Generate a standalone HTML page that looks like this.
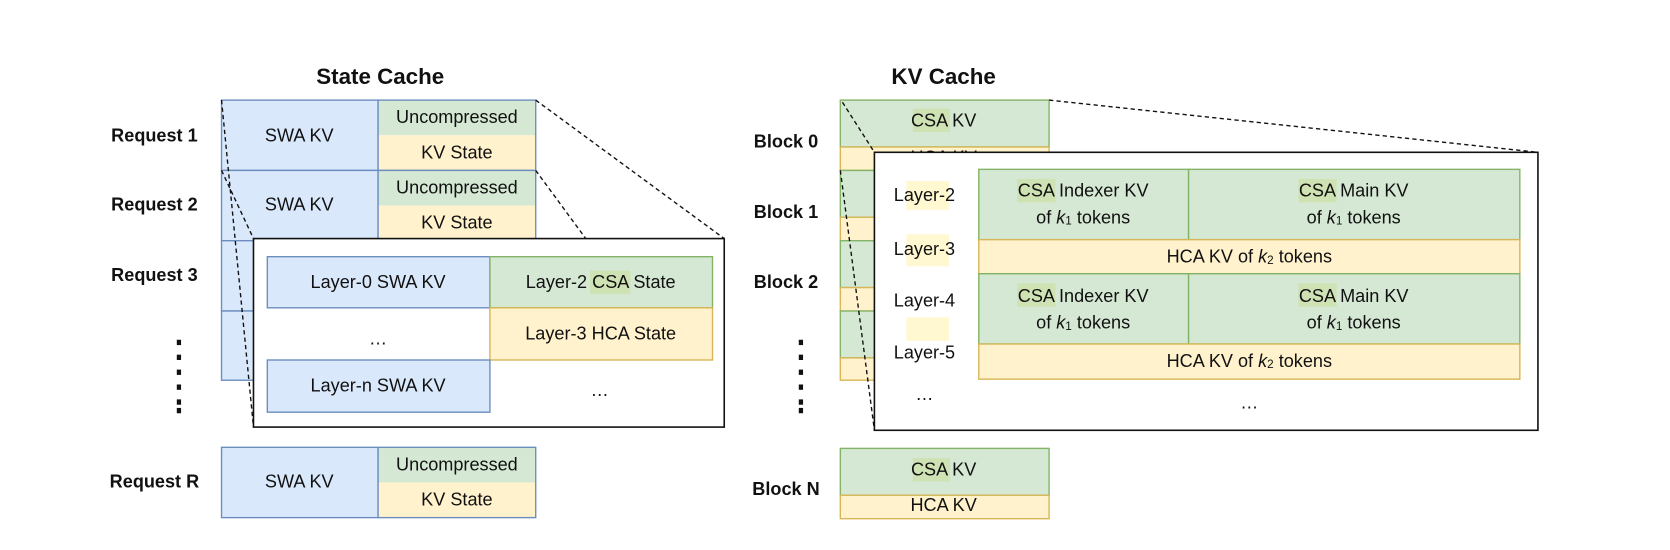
<!DOCTYPE html>
<html><head><meta charset="utf-8"><style>html,body{margin:0;padding:0;background:#fff}svg{display:block}text{font-family:"Liberation Sans",sans-serif;fill:#111}</style></head>
<body>
<svg width="1670" height="550" viewBox="0 0 1568 516.4" preserveAspectRatio="none" xmlns="http://www.w3.org/2000/svg">
<g font-size="17" text-anchor="middle" dominant-baseline="central">
<text x="357" y="72" font-size="21" font-weight="bold">State Cache</text>
<text x="886" y="72" font-size="21" font-weight="bold">KV Cache</text>
<g stroke-width="1.3">
<rect x="208" y="94" width="147" height="66" fill="#dae8fc" stroke="#6c8ebf"/>
<rect x="355" y="94" width="148" height="33" fill="#d5e8d4"/><rect x="355" y="127" width="148" height="33" fill="#fff2cc"/>
<rect x="355" y="94" width="148" height="66" fill="none" stroke="#6c8ebf"/>
<rect x="208" y="160" width="147" height="66" fill="#dae8fc" stroke="#6c8ebf"/>
<rect x="355" y="160" width="148" height="33" fill="#d5e8d4"/><rect x="355" y="193" width="148" height="33" fill="#fff2cc"/>
<rect x="355" y="160" width="148" height="66" fill="none" stroke="#6c8ebf"/>
<rect x="208" y="226" width="147" height="66" fill="#dae8fc" stroke="#6c8ebf"/>
<rect x="208" y="292" width="147" height="65" fill="#dae8fc" stroke="#6c8ebf"/>
<rect x="208" y="420" width="147" height="66" fill="#dae8fc" stroke="#6c8ebf"/>
<rect x="355" y="420" width="148" height="33" fill="#d5e8d4"/><rect x="355" y="453" width="148" height="33" fill="#fff2cc"/>
<rect x="355" y="420" width="148" height="66" fill="none" stroke="#6c8ebf"/>
</g>
<text x="281" y="127">SWA KV</text><text x="429" y="110">Uncompressed</text><text x="429" y="143">KV State</text>
<text x="281" y="192">SWA KV</text><text x="429" y="176">Uncompressed</text><text x="429" y="209">KV State</text>
<text x="281" y="452">SWA KV</text><text x="429" y="436">Uncompressed</text><text x="429" y="469">KV State</text>
<g font-weight="bold"><text x="145" y="127">Request 1</text><text x="145" y="192">Request 2</text><text x="145" y="258">Request 3</text><text x="145" y="452">Request R</text>
<text x="738" y="133">Block 0</text><text x="738" y="199">Block 1</text><text x="738" y="265">Block 2</text><text x="738" y="459">Block N</text></g>
<g fill="#111"><rect x="166" y="319" width="4" height="5"/><rect x="166" y="333" width="4" height="5"/><rect x="166" y="347" width="4" height="5"/><rect x="166" y="361" width="4" height="5"/><rect x="166" y="375" width="4" height="5"/><rect x="166" y="383" width="4" height="5"/>
<rect x="750" y="319" width="4" height="5"/><rect x="750" y="333" width="4" height="5"/><rect x="750" y="347" width="4" height="5"/><rect x="750" y="361" width="4" height="5"/><rect x="750" y="375" width="4" height="5"/><rect x="750" y="383" width="4" height="5"/></g>
<rect x="238" y="224" width="442" height="177" fill="#fff" stroke="#111" stroke-width="1.5"/>
<rect x="251" y="241" width="209" height="48" fill="#dae8fc" stroke="#6c8ebf" stroke-width="1.3"/>
<rect x="460" y="241" width="209" height="48" fill="#d5e8d4" stroke="#82b366" stroke-width="1.3"/>
<rect x="460" y="289" width="209" height="49" fill="#fff2cc" stroke="#d6b656" stroke-width="1.3"/>
<rect x="251" y="338" width="209" height="49" fill="#dae8fc" stroke="#6c8ebf" stroke-width="1.3"/>
<rect x="554" y="254" width="38" height="22" fill="#cfe2b4"/>
<text x="355" y="265">Layer-0 SWA KV</text><text x="564" y="265">Layer-2 CSA State</text>
<text x="564" y="313">Layer-3 HCA State</text><text x="355" y="362">Layer-n SWA KV</text>
<text x="355" y="318">…</text><text x="563" y="366">…</text>
<g stroke="#111" stroke-width="1.3" stroke-dasharray="4,3" fill="none">
<line x1="208" y1="94" x2="238" y2="401"/><line x1="208" y1="160" x2="238" y2="224"/>
<line x1="503" y1="94" x2="680" y2="224"/><line x1="503" y1="160" x2="550" y2="224"/>
</g>
<g stroke-width="1.3">
<rect x="789" y="94" width="196" height="44" fill="#d5e8d4" stroke="#82b366"/><rect x="789" y="138" width="196" height="22" fill="#fff2cc" stroke="#d6b656"/>
<rect x="789" y="160" width="196" height="44" fill="#d5e8d4" stroke="#82b366"/><rect x="789" y="204" width="196" height="22" fill="#fff2cc" stroke="#d6b656"/>
<rect x="789" y="226" width="196" height="44" fill="#d5e8d4" stroke="#82b366"/><rect x="789" y="270" width="196" height="22" fill="#fff2cc" stroke="#d6b656"/>
<rect x="789" y="292" width="196" height="44" fill="#d5e8d4" stroke="#82b366"/><rect x="789" y="336" width="196" height="21" fill="#fff2cc" stroke="#d6b656"/>
<rect x="789" y="421" width="196" height="44" fill="#d5e8d4" stroke="#82b366"/><rect x="789" y="465" width="196" height="22" fill="#fff2cc" stroke="#d6b656"/>
</g>
<rect x="857" y="102" width="35" height="22" fill="#cfe2b4"/><rect x="857" y="430" width="35" height="22" fill="#cfe2b4"/>
<text x="886" y="113">CSA KV</text><text x="886" y="148">HCA KV</text>
<text x="886" y="441">CSA KV</text><text x="886" y="474">HCA KV</text>
<rect x="821" y="143" width="623" height="261" fill="#fff" stroke="#111" stroke-width="1.5"/>
<rect x="851" y="170" width="40" height="27" fill="#fff8d0"/><rect x="851" y="220" width="40" height="30" fill="#fff8d0"/><rect x="851" y="298" width="40" height="22" fill="#fff8d0"/>
<g stroke-width="1.3">
<rect x="919" y="159" width="197" height="66" fill="#d5e8d4" stroke="#82b366"/><rect x="1116" y="159" width="311" height="66" fill="#d5e8d4" stroke="#82b366"/>
<rect x="919" y="225" width="508" height="32" fill="#fff2cc" stroke="#d6b656"/>
<rect x="919" y="257" width="197" height="66" fill="#d5e8d4" stroke="#82b366"/><rect x="1116" y="257" width="311" height="66" fill="#d5e8d4" stroke="#82b366"/>
<rect x="919" y="323" width="508" height="33" fill="#fff2cc" stroke="#d6b656"/>
</g>
<g fill="#cfe2b4"><rect x="955" y="168" width="36" height="22"/><rect x="1219" y="168" width="36" height="22"/><rect x="955" y="266" width="36" height="22"/><rect x="1219" y="266" width="36" height="22"/></g>
<text x="868" y="183">Layer-2</text><text x="868" y="234">Layer-3</text><text x="868" y="282">Layer-4</text><text x="868" y="331">Layer-5</text><text x="868" y="370">…</text>
<text x="1017" y="179">CSA Indexer KV</text><text x="1017" y="204">of <tspan font-style="italic">k</tspan><tspan font-size="11" dy="3">1</tspan><tspan dy="-3"> tokens</tspan></text>
<text x="1271" y="179">CSA Main KV</text><text x="1271" y="204">of <tspan font-style="italic">k</tspan><tspan font-size="11" dy="3">1</tspan><tspan dy="-3"> tokens</tspan></text>
<text x="1173" y="241">HCA KV of <tspan font-style="italic">k</tspan><tspan font-size="11" dy="3">2</tspan><tspan dy="-3"> tokens</tspan></text>
<text x="1017" y="278">CSA Indexer KV</text><text x="1017" y="303">of <tspan font-style="italic">k</tspan><tspan font-size="11" dy="3">1</tspan><tspan dy="-3"> tokens</tspan></text>
<text x="1271" y="278">CSA Main KV</text><text x="1271" y="303">of <tspan font-style="italic">k</tspan><tspan font-size="11" dy="3">1</tspan><tspan dy="-3"> tokens</tspan></text>
<text x="1173" y="339">HCA KV of <tspan font-style="italic">k</tspan><tspan font-size="11" dy="3">2</tspan><tspan dy="-3"> tokens</tspan></text>
<text x="1173" y="378">…</text>
<g stroke="#111" stroke-width="1.3" stroke-dasharray="4,3" fill="none">
<line x1="791" y1="96" x2="821" y2="143"/><line x1="789" y1="160" x2="821" y2="404"/>
<line x1="985" y1="94" x2="1444" y2="143"/>
</g>
</g>
</svg>
</body></html>
